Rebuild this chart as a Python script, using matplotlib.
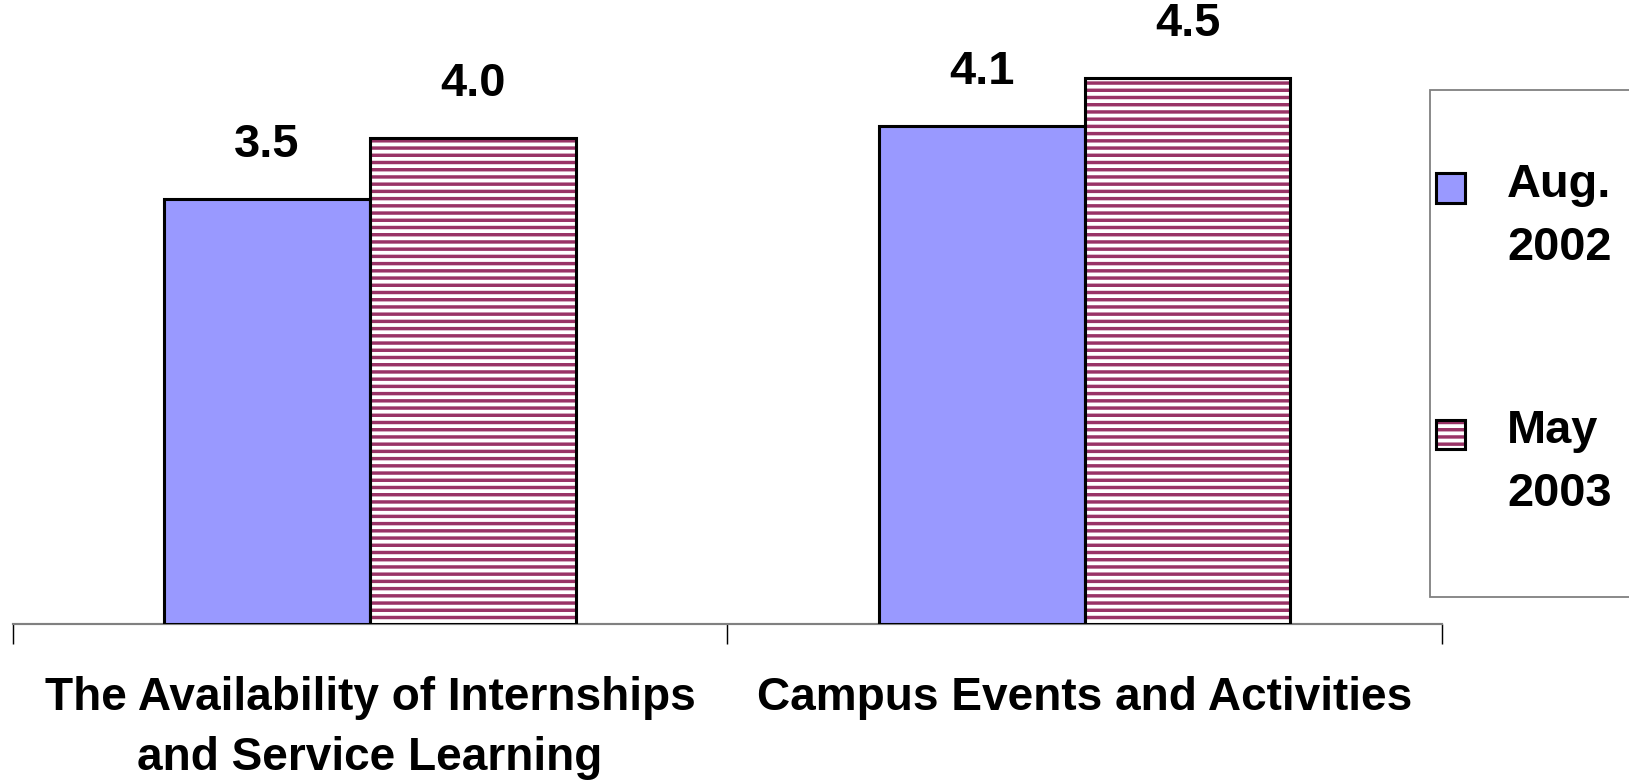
import matplotlib.pyplot as plt
from matplotlib.patches import Rectangle

# survey ratings
categories = ["The Availability of Internships\nand Service Learning",
              "Campus Events and Activities"]
aug_2002 = [3.5, 4.1]
may_2003 = [4.0, 4.5]
series_names = ["Aug.\n2002", "May\n2003"]

blue = "#9999FF"
maroon = "#993366"

plt.rcParams["font.family"] = ["Liberation Sans", "DejaVu Sans"]
plt.rcParams["font.weight"] = "bold"
plt.rcParams["hatch.linewidth"] = 1.9

dpi = 130
fig = plt.figure(figsize=(1629 / dpi, 784 / dpi), dpi=dpi)
ax = fig.add_axes([12.5 / 1629, 160 / 784, (1442 - 12.5) / 1629, 624 / 784])

x = list(range(len(categories)))
w = 0.288
xa = [i - w / 2 for i in x]
xm = [i + w / 2 for i in x]

bars_a = ax.bar(xa, aug_2002, w, color=blue, edgecolor="black", linewidth=1.7, zorder=3)
# hatch fill first, then a black outline on top
ax.bar(xm, may_2003, w, color="white", edgecolor=maroon, hatch="---", linewidth=0, zorder=3)
bars_m = ax.bar(xm, may_2003, w, color="none", edgecolor="black", linewidth=1.7, zorder=4)

for b, v in list(zip(bars_a, aug_2002)) + list(zip(bars_m, may_2003)):
    ax.annotate(f"{v:.1f}", (b.get_x() + b.get_width() / 2, v),
                xytext=(0, 30), textcoords="offset points",
                ha="center", va="center", fontsize=26, fontweight="bold")

ax.set_xlim(-0.5, len(categories) - 0.5)
ax.set_ylim(0, 5.14)
ax.set_yticks([])
for s in ["top", "right", "left"]:
    ax.spines[s].set_visible(False)
ax.spines["bottom"].set_color("#808080")
ax.spines["bottom"].set_linewidth(1.2)

# group boundaries get the tick marks, labels sit between them
ax.set_xticks([i - 0.5 for i in range(len(categories) + 1)])
ax.set_xticklabels([])
ax.tick_params(axis="x", which="major", length=11, width=0.8, color="black", direction="out")
ax.set_xticks(x, minor=True)
ax.set_xticklabels(categories, minor=True, fontsize=25.5, fontweight="bold", linespacing=1.45)
ax.tick_params(axis="x", which="minor", length=0, pad=29)

# legend box, drawn by hand so the swatch lines up with the first text line
fig.patches.append(Rectangle((1430 / 1629, (784 - 597) / 784), 0.2, (597 - 90) / 784,
                             transform=fig.transFigure, facecolor="white",
                             edgecolor="#808080", linewidth=1.0))
legend_y = [188, 434]
swatch = 29
for name, yy, style in zip(series_names, legend_y,
                           [dict(facecolor=blue), dict(facecolor="white", hatch="---")]):
    x0 = 1436 / 1629
    y0 = (784 - yy - swatch / 2) / 784
    if "hatch" in style:
        fig.patches.append(Rectangle((x0, y0), swatch / 1629, swatch / 784, transform=fig.transFigure,
                                     facecolor="white", edgecolor=maroon, hatch="---", linewidth=0))
        fig.patches.append(Rectangle((x0, y0), swatch / 1629, swatch / 784, transform=fig.transFigure,
                                     facecolor="none", edgecolor="black", linewidth=1.7))
    else:
        fig.patches.append(Rectangle((x0, y0), swatch / 1629, swatch / 784, transform=fig.transFigure,
                                     edgecolor="black", linewidth=1.7, **style))
    fig.text(1507 / 1629, (784 - yy + 25) / 784, name, fontsize=26, fontweight="bold",
             ha="left", va="top", linespacing=1.55)

fig.savefig("out.png", dpi=dpi)
